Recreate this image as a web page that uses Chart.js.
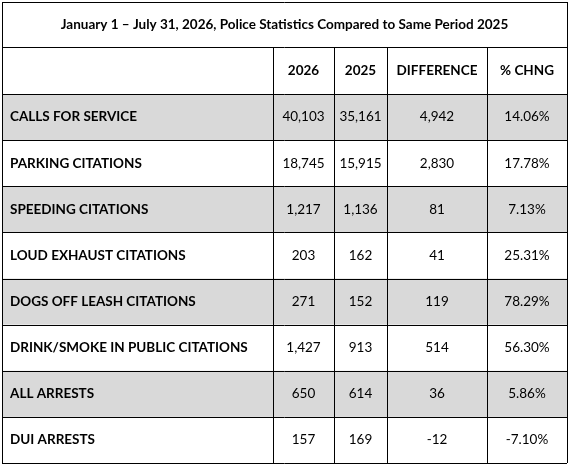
<!DOCTYPE html>
<html><head><meta charset="utf-8">
<script src="https://cdn.jsdelivr.net/npm/chart.js@4"></script>
<style>html,body{margin:0;padding:0;background:#fff}#w{width:570px;height:472px}</style>
</head><body><div id="w"><canvas id="c"></canvas></div>
<script>
const title = "January 1 – July 31, 2026, Police Statistics Compared to Same Period 2025";
const headers = ["", "2026", "2025", "DIFFERENCE", "% CHNG"];
const categories = ["CALLS FOR SERVICE","PARKING CITATIONS","SPEEDING CITATIONS","LOUD EXHAUST CITATIONS","DOGS OFF LEASH CITATIONS","DRINK/SMOKE IN PUBLIC CITATIONS","ALL ARRESTS","DUI ARRESTS"];
const values2026 = ["40,103","18,745","1,217","203","271","1,427","650","157"];
const values2025 = ["35,161","15,915","1,136","162","152","913","614","169"];
const difference = ["4,942","2,830","81","41","119","514","36","-12"];
const pctChange = ["14.06%","17.78%","7.13%","25.31%","78.29%","56.30%","5.86%","-7.10%"];

// layout (in scale units = px of reference)
const colEdges = [2, 273, 334, 387, 487, 567];
const titleTop = 2, headTop = 47, bodyTop = 94, bottom = 463;
const rowH = (bottom - bodyTop) / categories.length;

const tablePlugin = {
  id: 'table',
  afterDraw(chart) {
    const ctx = chart.ctx, X = chart.scales.x, Y = chart.scales.y;
    const px = v => X.getPixelForValue(v), py = v => Y.getPixelForValue(v);
    const font = "Lato, 'Noto Sans', sans-serif";
    ctx.save();
    categories.forEach((c, i) => {
      if (i % 2 === 0) {
        ctx.fillStyle = '#d9d9d9';
        ctx.fillRect(px(colEdges[0]), py(bodyTop + i * rowH), px(colEdges[5]) - px(colEdges[0]), rowH);
      }
    });
    ctx.strokeStyle = '#000'; ctx.lineWidth = 1;
    const hs = [titleTop, headTop, bodyTop];
    for (let i = 1; i <= categories.length; i++) hs.push(bodyTop + i * rowH);
    hs.forEach(h => { ctx.beginPath(); ctx.moveTo(px(colEdges[0]), Math.round(py(h)) + .5); ctx.lineTo(px(colEdges[5]), Math.round(py(h)) + .5); ctx.stroke(); });
    colEdges.forEach((e, k) => {
      const top = (k === 0 || k === 5) ? titleTop : headTop;
      ctx.beginPath(); ctx.moveTo(Math.round(px(e)) + .5, py(top)); ctx.lineTo(Math.round(px(e)) + .5, py(bottom)); ctx.stroke();
    });
    ctx.fillStyle = '#000'; ctx.textBaseline = 'middle';
    ctx.font = "bold 13.5px " + font; ctx.textAlign = 'center';
    ctx.fillText(title, (px(colEdges[0]) + px(colEdges[5])) / 2, py((titleTop + headTop) / 2));
    headers.forEach((h, k) => { if (h) ctx.fillText(h, (px(colEdges[k]) + px(colEdges[k + 1])) / 2, py((headTop + bodyTop) / 2)); });
    categories.forEach((c, i) => {
      const yc = py(bodyTop + (i + 0.5) * rowH);
      ctx.font = "bold 13.5px " + font; ctx.textAlign = 'left';
      ctx.fillText(c, px(colEdges[0]) + 8, yc);
      ctx.font = "13.5px " + font; ctx.textAlign = 'center';
      [values2026[i], values2025[i], difference[i], pctChange[i]].forEach((v, k) => {
        ctx.fillText(v, (px(colEdges[k + 1]) + px(colEdges[k + 2])) / 2, yc);
      });
    });
    ctx.restore();
  }
};

new Chart(document.getElementById('c'), {
  type: 'scatter',
  data: { datasets: [{ data: [] }] },
  options: {
    responsive: true, maintainAspectRatio: false, animation: false,
    layout: { padding: 0 },
    plugins: { legend: { display: false }, tooltip: { enabled: false } },
    scales: {
      x: { type: 'linear', min: 0, max: 570, display: false, offset: false },
      y: { type: 'linear', min: 0, max: 472, reverse: true, display: false, offset: false }
    }
  },
  plugins: [tablePlugin]
});
</script></body></html>
